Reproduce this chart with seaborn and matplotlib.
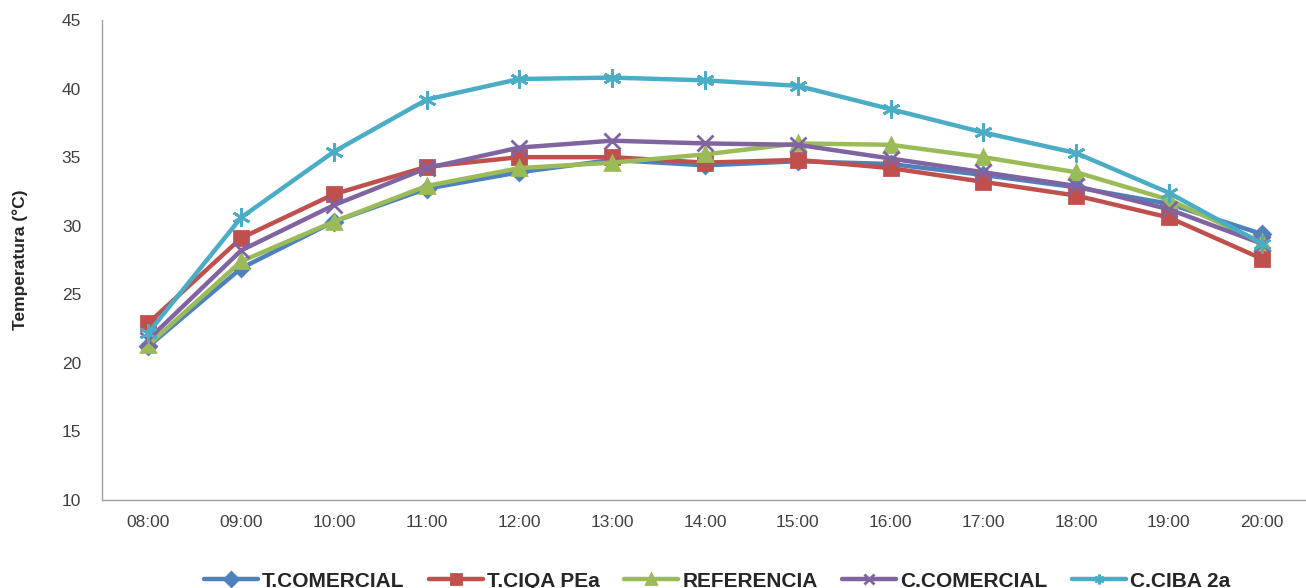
import matplotlib
matplotlib.use("Agg")
import matplotlib.pyplot as plt
import pandas as pd
import seaborn as sns

hours = ["08:00", "09:00", "10:00", "11:00", "12:00", "13:00", "14:00",
         "15:00", "16:00", "17:00", "18:00", "19:00", "20:00"]

t_comercial = [21.2, 26.9, 30.3, 32.7, 33.9, 34.8, 34.4, 34.7, 34.5, 33.7, 32.8, 31.6, 29.4]
t_ciqa_pea = [22.9, 29.1, 32.3, 34.3, 35.0, 35.0, 34.6, 34.8, 34.2, 33.2, 32.2, 30.6, 27.6]
referencia = [21.3, 27.4, 30.3, 32.9, 34.2, 34.6, 35.2, 36.0, 35.9, 35.0, 33.9, 31.9, 28.8]
c_comercial = [21.7, 28.2, 31.5, 34.2, 35.7, 36.2, 36.0, 35.9, 34.9, 33.9, 32.9, 31.2, 28.7]
c_ciba_2a = [22.2, 30.6, 35.4, 39.2, 40.7, 40.8, 40.6, 40.2, 38.5, 36.8, 35.3, 32.4, 28.7]

series = ["T.COMERCIAL", "T.CIQA PEa", "REFERENCIA", "C.COMERCIAL", "C.CIBA 2a"]
values = [t_comercial, t_ciqa_pea, referencia, c_comercial, c_ciba_2a]
colors = ["#4F81BD", "#C0504D", "#9BBB59", "#8064A2", "#4BACC6"]
markers = ["D", "s", "^", "x", (6, 2, 0)]
msizes = [8, 10, 10, 11, 13]

sns.set_style("white")
plt.rcParams["font.family"] = ["Liberation Sans", "DejaVu Sans"]

fig = plt.figure(figsize=(13.06, 5.88), dpi=100)
ax = fig.add_axes([102 / 1306, 1 - 500 / 588, 1206 / 1306, 480 / 588])

for name, vals, c, m, ms in zip(series, values, colors, markers, msizes):
    df = pd.DataFrame({"hora": hours, "temp": vals})
    sns.lineplot(data=df, x="hora", y="temp", color=c, marker=m,
                 markersize=ms, markeredgewidth=2, markeredgecolor=c,
                 linewidth=3.2, sort=False, label=name, ax=ax)

ax.set_ylim(10, 45)
ax.set_yticks(range(10, 50, 5))
ax.set_xlim(-0.5, len(hours) - 0.5)
ax.set_xlabel("")
ax.set_ylabel("Temperatura (°C)", fontsize=12.5, fontweight="bold", labelpad=24)
ax.tick_params(axis="both", labelsize=12.5, colors="#404040", length=0)
ax.tick_params(axis="x", pad=11)
ax.tick_params(axis="y", pad=15)

for side in ["top", "right"]:
    ax.spines[side].set_visible(False)
for side in ["left", "bottom"]:
    ax.spines[side].set_color("#a0a0a0")
    ax.spines[side].set_linewidth(1)

leg = ax.legend(loc="upper center", bbox_to_anchor=(0.51, -0.11), ncol=5,
                frameon=False, fontsize=15, handlelength=2.6,
                columnspacing=1.16, handletextpad=0.2)
for t in leg.get_texts():
    t.set_fontweight("bold")
for h in leg.legend_handles:
    h.set_markersize(7)

fig.savefig("out.png", dpi=100)
